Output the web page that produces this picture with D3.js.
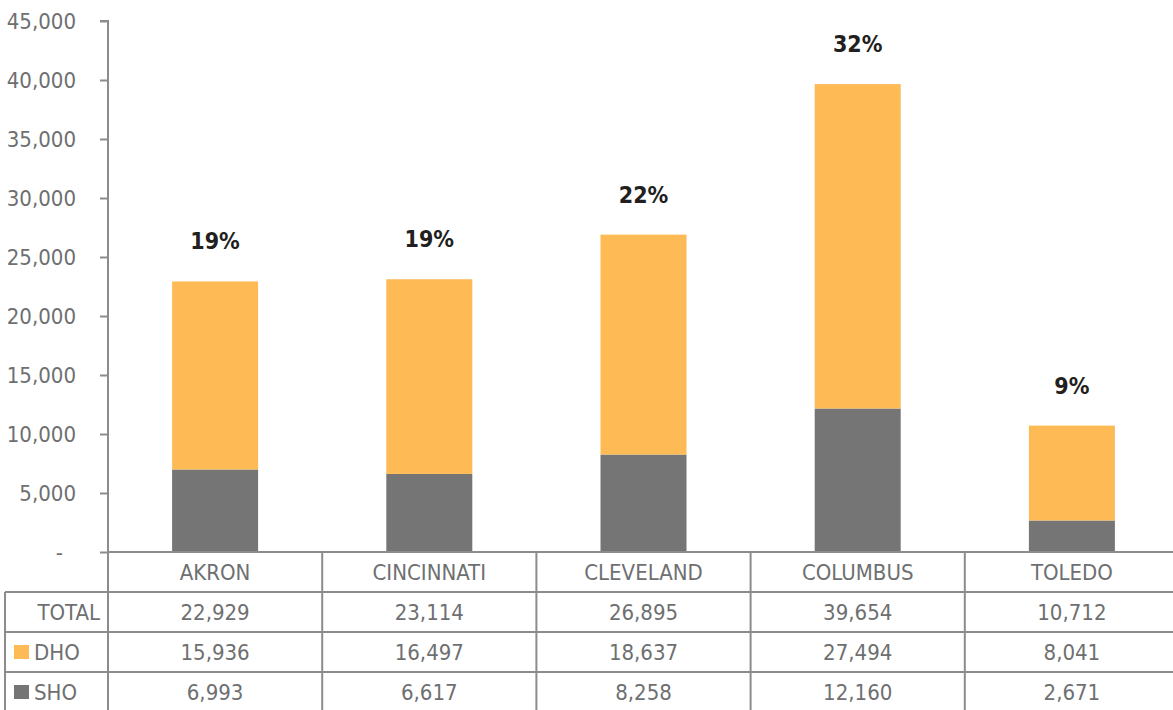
<!DOCTYPE html>
<html>
<head>
<meta charset="utf-8">
<script src="https://cdn.jsdelivr.net/npm/d3@7"></script>
<style>
	body { margin:0; background:white; }
	svg text { font-family: "DejaVu Sans Condensed", "Liberation Sans Narrow", sans-serif; }
</style>
</head>
<body>
<script>
//chart data
var cities = ["AKRON","CINCINNATI","CLEVELAND","COLUMBUS","TOLEDO"];
var dho = [15936, 16497, 18637, 27494, 8041];
var sho = [6993, 6617, 8258, 12160, 2671];
var totals = [22929, 23114, 26895, 39654, 10712];
var shares = ["19%","19%","22%","32%","9%"];
var yTicks = [0,5000,10000,15000,20000,25000,30000,35000,40000,45000];

var chart_w = 1173, chart_h = 710,
	plot_l = 108, band_r = 1179, plot_t = 21, plot_b = 552,
	row_h = 40,
	textCol = "rgb(110,111,113)",
	lineCol = "rgb(140,140,140)",
	orange = "rgb(253,186,85)",
	grey = "rgb(117,117,118)";

var svg = d3.select("body").append("svg")
	.attr("width", chart_w)
	.attr("height", chart_h);

//bands run a little past the right edge, like the original
var x = d3.scaleBand().domain(cities).range([plot_l, band_r]).paddingInner(0).paddingOuter(0);
var y = d3.scaleLinear().domain([0,45000]).range([plot_b, plot_t]);
var barW = 86;

var fmt = d3.format(",");

//stacked data
var rows = cities.map(function(c,i){ return {city:c, SHO:sho[i], DHO:dho[i], share:shares[i]}; });
var stack = d3.stack().keys(["SHO","DHO"])(rows);
var colors = {SHO:grey, DHO:orange};

stack.forEach(function(layer){
	svg.append("g").selectAll("rect")
		.data(layer)
		.enter().append("rect")
		.attr("x", function(d){ return x(d.data.city) + x.bandwidth()/2 - barW/2; })
		.attr("width", barW)
		.attr("y", function(d){ return y(d[1]); })
		.attr("height", function(d){ return y(d[0]) - y(d[1]); })
		.attr("fill", colors[layer.key]);
});

//percent labels
svg.append("g").selectAll("text")
	.data(rows)
	.enter().append("text")
	.attr("x", function(d){ return x(d.city) + x.bandwidth()/2; })
	.attr("y", function(d){ return y(d.SHO + d.DHO) - 32; })
	.attr("text-anchor","middle")
	.style("font-weight","bold")
	.style("font-size","23px")
	.style("fill","rgb(35,31,32)")
	.text(function(d){ return d.share; });

//y axis
var yAxis = d3.axisLeft(y)
	.tickValues(yTicks)
	.tickSize(8)
	.tickPadding(24)
	.tickFormat(function(d){ return d === 0 ? "-" : fmt(d); });

var ax = svg.append("g")
	.attr("transform","translate(" + plot_l + ",0)")
	.call(yAxis);
ax.select(".domain").attr("stroke", lineCol).attr("stroke-width",2).attr("d","M-8," + plot_t + "H0V" + plot_b);
ax.selectAll(".tick line").attr("stroke", lineCol).attr("stroke-width",2);
ax.selectAll(".tick text")
	.style("font-size","22px")
	.style("fill", textCol)
	.attr("dy","0.36em")
	.attr("dx", function(d){ return d === 0 ? -13 : 0; });

//table grid
var grid = svg.append("g").attr("stroke", lineCol).attr("stroke-width",2).attr("fill","none");
grid.append("line").attr("x1",plot_l).attr("x2",chart_w).attr("y1",plot_b).attr("y2",plot_b);
[1,2,3].forEach(function(r){
	grid.append("line").attr("x1",5).attr("x2",chart_w).attr("y1",plot_b + r*row_h).attr("y2",plot_b + r*row_h);
});
grid.append("line").attr("x1",5).attr("x2",5).attr("y1",plot_b + row_h).attr("y2",chart_h);
cities.forEach(function(c,i){
	if (i === 0) return;
	grid.append("line").attr("x1",x(c)).attr("x2",x(c)).attr("y1",plot_b).attr("y2",chart_h);
});
grid.append("line").attr("x1",plot_l).attr("x2",plot_l).attr("y1",plot_b).attr("y2",chart_h);

//table text
var tableRows = [
	{label:"TOTAL", vals:totals, swatch:null},
	{label:"DHO", vals:dho, swatch:orange},
	{label:"SHO", vals:sho, swatch:grey}
];

svg.append("g").selectAll("text")
	.data(cities)
	.enter().append("text")
	.attr("x", function(d){ return x(d) + x.bandwidth()/2; })
	.attr("y", plot_b + row_h/2)
	.attr("dy","0.36em")
	.attr("text-anchor","middle")
	.style("font-size","22px")
	.style("fill", textCol)
	.text(function(d){ return d; });

tableRows.forEach(function(r,ri){
	var cy = plot_b + (ri+1)*row_h + row_h/2;
	var g = svg.append("g");
	if (r.swatch){
		g.append("rect").attr("x",14).attr("y",cy - 7).attr("width",15).attr("height",14).attr("fill", r.swatch);
		g.append("text").attr("x",34).attr("y",cy).attr("dy","0.36em")
			.style("font-size","22px").style("fill",textCol).text(r.label);
	} else {
		g.append("text").attr("x",100).attr("y",cy).attr("dy","0.36em")
			.attr("text-anchor","end")
			.style("font-size","22px").style("fill",textCol).text(r.label);
	}
	g.selectAll("text.val")
		.data(r.vals)
		.enter().append("text")
		.attr("class","val")
		.attr("x", function(d,i){ return x(cities[i]) + x.bandwidth()/2; })
		.attr("y", cy)
		.attr("dy","0.36em")
		.attr("text-anchor","middle")
		.style("font-size","22px")
		.style("fill", textCol)
		.text(function(d){ return fmt(d); });
});
</script>
</body>
</html>
